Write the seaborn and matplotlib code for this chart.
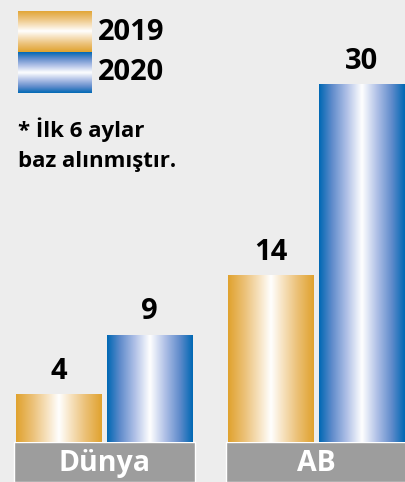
import numpy as np
import pandas as pd
import matplotlib
matplotlib.use("Agg")
import matplotlib.pyplot as plt
from matplotlib.colors import LinearSegmentedColormap
import seaborn as sns

# chart data
categories = ["Dünya", "AB"]
years = ["2019", "2020"]
values_2019 = [4, 14]
values_2020 = [9, 30]
note_lines = ["* İlk 6 aylar", "baz alınmıştır."]

BG = "#ededed"
BAND = "#9d9d9d"
GOLD = "#e0a22e"
BLUE = "#0068b4"

# gradient maps: dark edge -> white centre -> dark edge
gold_cmap = LinearSegmentedColormap.from_list(
    "gold", [(0, GOLD), (0.2, "#ecc27a"), (0.38, "#f8e6c8"), (0.5, "#ffffff"),
             (0.62, "#f8e6c8"), (0.8, "#ecc27a"), (1, GOLD)])
blue_cmap = LinearSegmentedColormap.from_list(
    "blue", [(0, BLUE), (0.15, "#5f8bcb"), (0.32, "#aebfe6"), (0.5, "#ffffff"),
             (0.68, "#aebfe6"), (0.85, "#5f8bcb"), (1, BLUE)])

sns.set_theme(style="white")
plt.rcParams["font.family"] = ["Open Sans", "DejaVu Sans"]
plt.rcParams["font.weight"] = "bold"

df = pd.DataFrame({
    "category": categories * 2,
    "year": [years[0]] * len(categories) + [years[1]] * len(categories),
    "value": values_2019 + values_2020,
})

fig = plt.figure(figsize=(4.06, 4.82), dpi=100, facecolor=BG)
ax = fig.add_axes([0, 0, 1, 1])
ax.set_facecolor(BG)

sns.barplot(data=df, x="category", y="value", hue="year", order=categories,
            hue_order=years, palette=[GOLD, BLUE], width=0.854, gap=0.055,
            legend=False, ax=ax)

grad = np.linspace(0, 1, 256).reshape(1, -1)
for cont, cmap in zip(ax.containers, [gold_cmap, blue_cmap]):
    for bar in cont:
        x, w, h = bar.get_x(), bar.get_width(), bar.get_height()
        bar.set_facecolor("none")
        bar.set_edgecolor("none")
        im = ax.imshow(grad, cmap=cmap, aspect="auto", extent=[x, x + w, 0, h],
                       interpolation="bicubic", zorder=2)
        im.set_clip_path(bar)
    ax.bar_label(cont, labels=[str(int(b.get_height())) for b in cont],
                 padding=6, fontsize=21, fontweight="bold", color="black")

# grey category band under each group
band_bottom = -3.35
ax.bar(np.arange(len(categories)), -band_bottom, bottom=band_bottom,
       width=0.854, color=BAND, zorder=1)
for i, cat in enumerate(categories):
    ax.text(i, band_bottom / 2 - 0.12, cat, ha="center", va="center",
            fontsize=20.5, fontweight="bold", color="white")

ax.set_xlim(-0.493, 1.422)
ax.set_ylim(band_bottom, 37.05)
ax.set_axis_off()

# legend with gradient swatches
W, H = 406, 482
vgrad = np.linspace(0, 1, 256).reshape(-1, 1)
for i, (yr, cmap) in enumerate(zip(years, [gold_cmap, blue_cmap])):
    top = 11 + i * 41
    sw = fig.add_axes([18 / W, 1 - (top + 41) / H, 74 / W, 41 / H])
    sw.imshow(vgrad, cmap=cmap, aspect="auto", interpolation="bicubic")
    sw.set_axis_off()
    fig.text(98 / W, 1 - (top + 21) / H, yr, ha="left", va="center",
             fontsize=21, fontweight="bold", color="black")

for j, line in enumerate(note_lines):
    fig.text(18 / W, 1 - (137 + j * 30) / H, line, ha="left", va="baseline",
             fontsize=16, fontweight="bold", color="black")

fig.savefig("out.png", dpi=100, facecolor=BG)
